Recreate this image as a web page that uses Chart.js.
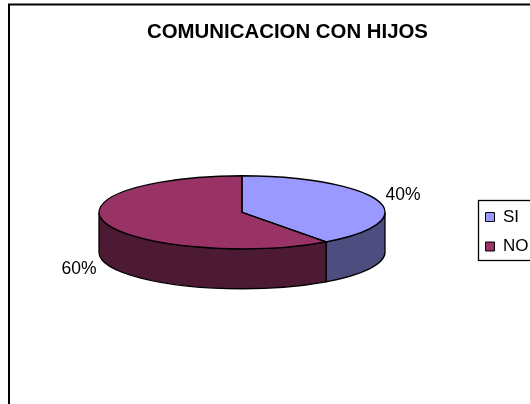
<!DOCTYPE html>
<html>
<head>
<meta charset="utf-8">
<style>html,body{margin:0;padding:0;background:#fff;overflow:hidden}canvas{display:block}</style>
<script src="https://cdn.jsdelivr.net/npm/chart.js@4/dist/chart.umd.min.js"></script>
</head>
<body>
<canvas id="c" width="530" height="404" style="width:530px;height:404px"></canvas>
<script>
const chartTitle = 'COMUNICACION CON HIJOS';
const categories = ['SI', 'NO'];
const percentages = [40, 60];
const topColors = ['#9999FF', '#993366'];
const wallColors = ['#4D4D80', '#4D1A33'];
const valueLabelOffsets = [[25, -6], [-27, 46]];

const FONT = '"Liberation Sans", Arial, sans-serif';
const TILT = 36.5 / 143;
const DEPTH = 40;
const OUTLINE = 1.3;

const elevatedPie = {
  id: 'elevatedPie',
  afterLayout(chart) {
    const t = chart.titleBlock;
    t.left = 8; t.right = 567;
    const l = chart.legend;
    const h = l.bottom - l.top;
    l.left = 473; l.right = l.left + l.width;
    l.top = 196; l.bottom = 196 + h;
    l.height = h;
  },
  beforeDraw(chart) {
    const { ctx } = chart;
    ctx.save();
    ctx.fillStyle = '#fff';
    ctx.fillRect(0, 0, chart.width, chart.height);
    ctx.strokeStyle = '#000';
    ctx.lineWidth = 2;
    ctx.strokeRect(9, 4.5, 600, 500);
    ctx.lineWidth = OUTLINE;
    ctx.strokeRect(478.5, 200.5, 70, 60);
    ctx.restore();
  },
  beforeDatasetsDraw(chart) {
    const { ctx } = chart;
    const arcs = chart.getDatasetMeta(0).data;
    const { x, y, outerRadius: r } = arcs[0].getProps(['x', 'y', 'outerRadius'], true);
    const ry = r * TILT;
    ctx.save();
    // side walls: only the part of each slice facing the viewer
    arcs.forEach((arc, i) => {
      const { startAngle, endAngle } = arc.getProps(['startAngle', 'endAngle'], true);
      const a0 = Math.max(startAngle, 0);
      const a1 = Math.min(endAngle, Math.PI);
      if (a1 <= a0) return;
      ctx.beginPath();
      ctx.ellipse(x, y, r, ry, 0, a0, a1);
      ctx.ellipse(x, y + DEPTH, r, ry, 0, a1, a0, true);
      ctx.closePath();
      ctx.fillStyle = wallColors[i];
      ctx.fill();
      ctx.strokeStyle = '#000';
      ctx.lineWidth = OUTLINE;
      ctx.stroke();
    });
    ctx.restore();
    // squash the circular slices the library draws next
    ctx.save();
    ctx.translate(x, y);
    ctx.scale(1, TILT);
    ctx.translate(-x, -y);
  },
  afterDatasetsDraw(chart) {
    const { ctx } = chart;
    ctx.restore();
    const arcs = chart.getDatasetMeta(0).data;
    ctx.save();
    ctx.strokeStyle = '#000';
    ctx.lineWidth = OUTLINE;
    arcs.forEach((arc) => {
      const { x, y, startAngle, endAngle, outerRadius: r } =
        arc.getProps(['x', 'y', 'startAngle', 'endAngle', 'outerRadius'], true);
      ctx.beginPath();
      ctx.moveTo(x, y);
      ctx.ellipse(x, y, r, r * TILT, 0, startAngle, endAngle);
      ctx.closePath();
      ctx.stroke();
    });
    ctx.fillStyle = '#000';
    ctx.font = '17.5px ' + FONT;
    ctx.textAlign = 'center';
    ctx.textBaseline = 'middle';
    arcs.forEach((arc, i) => {
      const { x, y, startAngle, endAngle, outerRadius: r } =
        arc.getProps(['x', 'y', 'startAngle', 'endAngle', 'outerRadius'], true);
      const mid = (startAngle + endAngle) / 2;
      const [dx, dy] = valueLabelOffsets[i];
      ctx.fillText(percentages[i] + '%',
        x + r * Math.cos(mid) + dx,
        y + r * TILT * Math.sin(mid) + dy);
    });
    ctx.restore();
  }
};

new Chart(document.getElementById('c'), {
  type: 'pie',
  data: {
    labels: categories,
    datasets: [{ data: percentages, backgroundColor: topColors, borderWidth: 0 }]
  },
  plugins: [elevatedPie],
  options: {
    responsive: false,
    animation: false,
    radius: 143,
    layout: { padding: { left: 99, right: 145, top: 0, bottom: 49 } },
    plugins: {
      tooltip: { enabled: false },
      title: {
        display: true,
        text: chartTitle,
        color: '#000',
        font: { family: FONT, size: 20.4, weight: 'bold' },
        padding: { top: 20, bottom: 25 }
      },
      legend: {
        position: 'chartArea',
        align: 'start',
        labels: {
          color: '#000',
          boxWidth: 9,
          boxHeight: 9,
          padding: 12.5,
          font: { family: FONT, size: 17 },
          generateLabels() {
            return categories.map((name, i) => ({
              text: name,
              fillStyle: topColors[i],
              strokeStyle: '#000',
              lineWidth: 1,
              index: i
            }));
          }
        }
      }
    }
  }
});
</script>
</body>
</html>
